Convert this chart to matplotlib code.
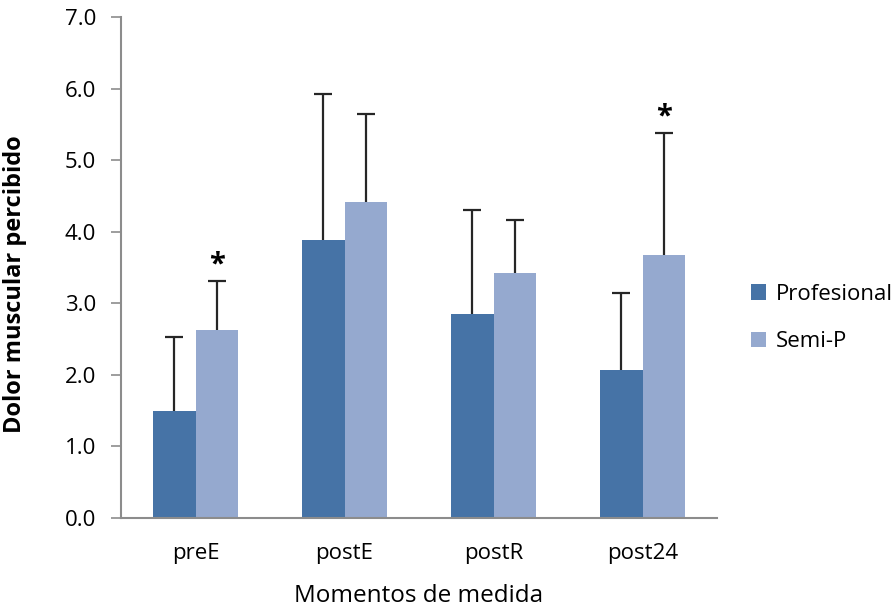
import matplotlib
matplotlib.use("Agg")
import matplotlib.pyplot as plt
import numpy as np

plt.rcParams['font.family'] = ['Open Sans', 'DejaVu Sans']

categories = ["preE", "postE", "postR", "post24"]
profesional = [1.50, 3.88, 2.85, 2.07]
profesional_sd = [1.03, 2.04, 1.45, 1.07]
semi_p = [2.63, 4.42, 3.43, 3.67]
semi_p_sd = [0.68, 1.23, 0.73, 1.71]
significant = [True, False, False, True]
y_ticks = [0.0, 1.0, 2.0, 3.0, 4.0, 5.0, 6.0, 7.0]

col_prof = "#4673A6"
col_semi = "#95A9CF"
axis_col = "#8C8C8C"

fig = plt.figure(figsize=(8.93, 6.15), dpi=100)
ax = fig.add_axes([0.1355, 0.1577, 0.6675, 0.8147])

x = np.arange(len(categories))
w = 1 / 3.5
b1 = ax.bar(x - w / 2, profesional, width=w, color=col_prof, label="Profesional", zorder=2)
b2 = ax.bar(x + w / 2, semi_p, width=w, color=col_semi, label="Semi-P", zorder=2)

# upper-only error bars: hide the cap drawn at the bar top
err_kw = dict(fmt="none", ecolor="#262626", elinewidth=1.6, capsize=6.5, capthick=1.6, zorder=3)
for xs, ys, sd in [(x - w / 2, profesional, profesional_sd), (x + w / 2, semi_p, semi_p_sd)]:
    cont = ax.errorbar(xs, ys, yerr=[np.zeros(len(sd)), sd], **err_kw)
    cont[1][0].set_visible(False)

for i, sig in enumerate(significant):
    if sig:
        ax.annotate("*", (x[i] + w / 2, semi_p[i] + semi_p_sd[i]), xytext=(0, 1),
                    textcoords="offset points", ha="center", va="bottom",
                    fontsize=21, fontweight="bold", color="black")

ax.set_xlim(-0.5, len(categories) - 0.5)
ax.set_ylim(0, 7)
ax.set_yticks(y_ticks)
ax.set_yticklabels([f"{v:.1f}" for v in y_ticks], fontsize=16)
ax.set_xticks(x)
ax.set_xticklabels(categories, fontsize=16)
ax.tick_params(axis="x", length=0, pad=18)
ax.tick_params(axis="y", length=7, width=1.2, color=axis_col, direction="out", pad=11)

for s in ["top", "right"]:
    ax.spines[s].set_visible(False)
for s in ["left", "bottom"]:
    ax.spines[s].set_color(axis_col)
    ax.spines[s].set_linewidth(1.5)

ax.set_ylabel("Dolor muscular percibido", fontsize=17, fontweight="bold")
ax.yaxis.set_label_coords(-0.158, 0.467)
ax.set_xlabel("Momentos de medida", fontsize=17.5)
ax.xaxis.set_label_coords(0.5, -0.132)

fig.legend(handles=[b1, b2], loc="center left", bbox_to_anchor=(0.828, 0.483),
           frameon=False, fontsize=16, handlelength=0.7, handleheight=0.7,
           handletextpad=0.45, labelspacing=1.2, borderpad=0)

fig.savefig("out.png", dpi=100)
